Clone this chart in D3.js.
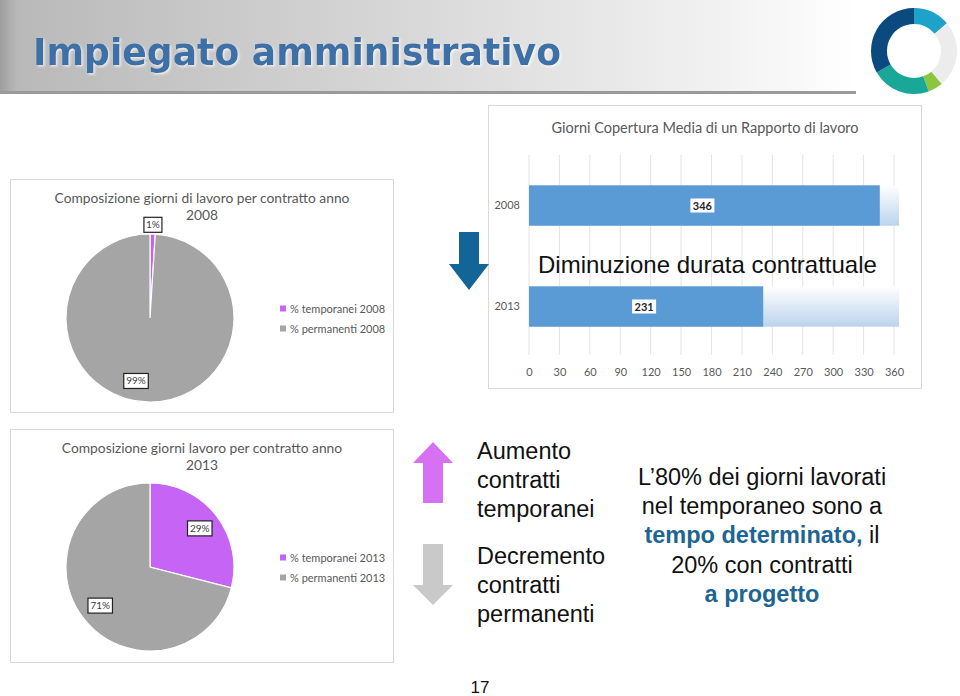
<!DOCTYPE html>
<html>
<head>
<meta charset="utf-8">
<script src="https://cdn.jsdelivr.net/npm/d3@7"></script>
<style>
  body { margin: 0; background: #fff; }
  svg { display: block; }
</style>
</head>
<body>
<svg id="slide" width="960" height="696"></svg>
<script>
// --- data ---
var sliceNames = ['% temporanei', '% permanenti'];
var sliceColors = ['#c664f5', '#a5a5a5'];
var pieYears = ['2008', '2013'];
var share2008 = [1, 99];
var share2013 = [29, 71];

var barYears = ['2008', '2013'];
var barDays = [346, 231];
var barFull = [365, 365];
var dayTicks = [0, 30, 60, 90, 120, 150, 180, 210, 240, 270, 300, 330, 360];

var logoShares = [50, 90, 20, 80, 120];
var logoColors = ['#1ea2c9', '#ececec', '#8cc63e', '#19a797', '#0b4a7e'];

var chartFont = 'Lato, "Open Sans", sans-serif';
var slideFont = '"Liberation Sans", Arial, sans-serif';

var svg = d3.select('#slide');
var defs = svg.append('defs');

// --- title banner ---
var bannerGrad = defs.append('linearGradient').attr('id', 'banner').attr('x1', 0).attr('x2', 1);
bannerGrad.append('stop').attr('offset', 0).attr('stop-color', '#9e9e9e');
bannerGrad.append('stop').attr('offset', 0.02).attr('stop-color', '#b9b9b9');
bannerGrad.append('stop').attr('offset', 0.45).attr('stop-color', '#d6d6d6');
bannerGrad.append('stop').attr('offset', 0.85).attr('stop-color', '#f2f2f2');
bannerGrad.append('stop').attr('offset', 1).attr('stop-color', '#ffffff');

svg.append('rect').attr('x', 0).attr('y', 0).attr('width', 856).attr('height', 94).attr('fill', '#9a9a9a');
svg.append('rect').attr('x', 0).attr('y', 0).attr('width', 856).attr('height', 91).attr('fill', 'url(#banner)');

var shadow = defs.append('filter').attr('id', 'tshadow');
shadow.append('feDropShadow').attr('dx', 1.5).attr('dy', 1.5).attr('stdDeviation', 0.8)
  .attr('flood-color', '#ffffff').attr('flood-opacity', 0.7);

svg.append('text')
  .attr('x', 33).attr('y', 65)
  .attr('font-family', '"DejaVu Sans", sans-serif')
  .attr('font-weight', 'bold')
  .attr('font-size', '38px')
  .attr('fill', '#3c6fa6')
  .attr('textLength', 528)
  .attr('lengthAdjust', 'spacingAndGlyphs')
  .attr('filter', 'url(#tshadow)')
  .text('Impiegato amministrativo');

// --- logo donut ---
var logoPie = d3.pie().sort(null).value(function (d) { return d; });
var logoArc = d3.arc().innerRadius(27).outerRadius(43);
svg.append('g').attr('transform', 'translate(914,51)')
  .selectAll('path').data(logoPie(logoShares)).join('path')
  .attr('d', logoArc)
  .attr('fill', function (d, i) { return logoColors[i]; });

// --- pie charts ---
function drawPie(box, year, shares) {
  var g = svg.append('g').attr('transform', 'translate(' + box.x + ',' + box.y + ')');
  g.append('rect').attr('x', 0.5).attr('y', 0.5).attr('width', box.w).attr('height', box.h)
    .attr('fill', '#fff').attr('stroke', '#d9d9d9');

  g.append('text').attr('x', 192).attr('y', 24)
    .attr('text-anchor', 'middle').attr('font-family', chartFont).attr('font-size', '13.8px')
    .attr('fill', '#595959').text(box.title);
  g.append('text').attr('x', 192).attr('y', 41)
    .attr('text-anchor', 'middle').attr('font-family', chartFont).attr('font-size', '13.8px')
    .attr('fill', '#595959').text(year);

  var r = 84;
  var pie = d3.pie().sort(null).value(function (d) { return d; });
  var arc = d3.arc().innerRadius(0).outerRadius(r);
  var arcs = pie(shares);
  var pg = g.append('g').attr('transform', 'translate(140,' + box.cy + ')');
  pg.selectAll('path').data(arcs).join('path')
    .attr('d', arc)
    .attr('fill', function (d, i) { return sliceColors[i]; })
    .attr('stroke', '#fff').attr('stroke-width', 1.2);

  arcs.forEach(function (a) {
    var lr = a.value < 5 ? r * 1.11 : r * 0.75;
    var c = d3.arc().innerRadius(lr).outerRadius(lr).centroid(a);
    // the near-full slice label sits a bit left of the slice midpoint, as Excel's best fit does
    if (a.value > 90) c[0] -= 12;
    var lab = pg.append('g').attr('transform', 'translate(' + c[0] + ',' + c[1] + ')');
    var txt = a.value + '%';
    var w = txt.length * 6.5 + 5;
    lab.append('rect').attr('x', -w / 2).attr('y', -7.5).attr('width', w).attr('height', 15)
      .attr('fill', '#fff').attr('stroke', '#222').attr('stroke-width', 1.2);
    lab.append('text').attr('y', 3.5).attr('text-anchor', 'middle')
      .attr('font-family', chartFont).attr('font-size', '10px').attr('fill', '#404040').text(txt);
  });

  sliceNames.forEach(function (name, i) {
    var ly = box.cy - 9 + i * 20;
    g.append('rect').attr('x', 270).attr('y', ly - 3.5).attr('width', 6).attr('height', 6)
      .attr('fill', sliceColors[i]);
    g.append('text').attr('x', 280).attr('y', ly + 3.5)
      .attr('font-family', chartFont).attr('font-size', '11px').attr('fill', '#595959')
      .text(name + ' ' + year);
  });
}

drawPie({ x: 10, y: 179, w: 383, h: 233, cy: 139, title: 'Composizione giorni di lavoro per contratto anno' }, pieYears[0], share2008);
drawPie({ x: 10, y: 429, w: 383, h: 233, cy: 138, title: 'Composizione giorni lavoro per contratto anno' }, pieYears[1], share2013);

// --- bar chart ---
var bx = 488, by = 105;
svg.append('rect').attr('x', bx + 0.5).attr('y', by + 0.5).attr('width', 433).attr('height', 283)
  .attr('fill', '#fff').attr('stroke', '#d9d9d9');
svg.append('text').attr('x', 705).attr('y', 133).attr('text-anchor', 'middle')
  .attr('font-family', chartFont).attr('font-size', '14.5px').attr('fill', '#595959')
  .text('Giorni Copertura Media di un Rapporto di lavoro');

var x = d3.scaleLinear().domain([0, 360]).range([529, 894]);
var y = d3.scaleBand().domain(barYears).range([155, 357]).paddingInner(0.6).paddingOuter(0.3);

var grid = svg.append('g');
grid.selectAll('line').data(dayTicks).join('line')
  .attr('x1', function (d) { return x(d); }).attr('x2', function (d) { return x(d); })
  .attr('y1', 155).attr('y2', 355)
  .attr('stroke', '#e3e3e3').attr('stroke-width', 1);

var xAxis = svg.append('g').attr('transform', 'translate(0,355)')
  .call(d3.axisBottom(x).tickValues(dayTicks).tickSize(0).tickPadding(13));
xAxis.select('.domain').remove();
xAxis.selectAll('text').attr('font-family', chartFont).attr('font-size', '11px').attr('fill', '#595959');

var yAxis = svg.append('g').attr('transform', 'translate(520,0)')
  .call(d3.axisLeft(y).tickSize(0).tickPadding(0));
yAxis.select('.domain').remove();
yAxis.selectAll('text').attr('font-family', chartFont).attr('font-size', '11px').attr('fill', '#595959');

var fullGrad = defs.append('linearGradient').attr('id', 'fullbar').attr('x1', 0).attr('x2', 0).attr('y1', 0).attr('y2', 1);
fullGrad.append('stop').attr('offset', 0).attr('stop-color', '#ffffff');
fullGrad.append('stop').attr('offset', 1).attr('stop-color', '#bcd3ed');

svg.append('g').selectAll('rect').data(barFull).join('rect')
  .attr('x', x(0))
  .attr('y', function (d, i) { return y(barYears[i]); })
  .attr('width', function (d) { return x(d) - x(0); })
  .attr('height', y.bandwidth())
  .attr('fill', 'url(#fullbar)');

svg.append('g').selectAll('rect').data(barDays).join('rect')
  .attr('x', x(0))
  .attr('y', function (d, i) { return y(barYears[i]); })
  .attr('width', function (d) { return x(d) - x(0); })
  .attr('height', y.bandwidth())
  .attr('fill', '#5b9bd5');

barDays.forEach(function (d, i) {
  var cx = (x(0) + x(d)) / 2 - 2;
  var cy = y(barYears[i]) + y.bandwidth() / 2;
  svg.append('rect').attr('x', cx - 12).attr('y', cy - 7).attr('width', 24).attr('height', 14).attr('fill', '#fff');
  svg.append('text').attr('x', cx).attr('y', cy + 4).attr('text-anchor', 'middle')
    .attr('font-family', chartFont).attr('font-weight', 'bold').attr('font-size', '11px')
    .attr('fill', '#262626').text(d);
});

svg.append('text').attr('x', 538).attr('y', 273)
  .attr('font-family', slideFont).attr('font-size', '24px').attr('fill', '#111')
  .text('Diminuzione durata contrattuale');

// --- arrows ---
function arrow(cx, top, bottom, headLen, up, color) {
  var sw = 10, hw = 20;
  var p;
  if (up) {
    p = [[cx, top], [cx + hw, top + headLen], [cx + sw, top + headLen], [cx + sw, bottom],
         [cx - sw, bottom], [cx - sw, top + headLen], [cx - hw, top + headLen]];
  } else {
    p = [[cx - sw, top], [cx + sw, top], [cx + sw, bottom - headLen], [cx + hw, bottom - headLen],
         [cx, bottom], [cx - hw, bottom - headLen], [cx - sw, bottom - headLen]];
  }
  svg.append('path').attr('d', d3.line()(p) + 'Z').attr('fill', color);
}
arrow(469, 232, 290, 26, false, '#136598');
arrow(433, 442, 503, 21, true, '#d771f3');
arrow(433, 544, 605, 20, false, '#c9c9c9');

// --- slide texts ---
function lines(xp, y0, step, arr, anchor) {
  arr.forEach(function (t, i) {
    var tx = svg.append('text').attr('x', xp).attr('y', y0 + i * step)
      .attr('font-family', slideFont).attr('font-size', '23.5px').attr('fill', '#111')
      .attr('text-anchor', anchor || 'start');
    t.forEach(function (part) {
      tx.append('tspan').text(part.s)
        .attr('font-weight', part.b ? 'bold' : null)
        .attr('fill', part.b ? '#1d6594' : null);
    });
  });
}
lines(477, 459, 29, [[{ s: 'Aumento' }], [{ s: 'contratti' }], [{ s: 'temporanei' }]]);
lines(477, 564, 29, [[{ s: 'Decremento' }], [{ s: 'contratti' }], [{ s: 'permanenti' }]]);
lines(762, 485, 29.2, [
  [{ s: 'L\u201980% dei giorni lavorati' }],
  [{ s: 'nel temporaneo sono a' }],
  [{ s: 'tempo determinato,', b: true }, { s: ' il' }],
  [{ s: '20% con contratti' }],
  [{ s: 'a progetto', b: true }]
], 'middle');

svg.append('text').attr('x', 480).attr('y', 693).attr('text-anchor', 'middle')
  .attr('font-family', slideFont).attr('font-size', '17px').attr('fill', '#111').text('17');
</script>
</body>
</html>
